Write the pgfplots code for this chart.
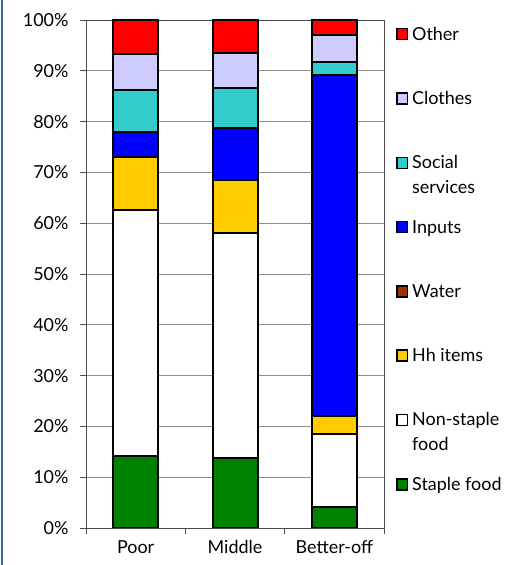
\documentclass[border=0pt]{standalone}
\usepackage{fontspec}
\setmainfont{Lato}
\usepackage{pgfplots}
\pgfplotsset{compat=1.18}
\definecolor{staple}{RGB}{0,128,0}
\definecolor{hhitems}{RGB}{255,204,0}
\definecolor{water}{RGB}{153,51,0}
\definecolor{inputs}{RGB}{0,0,255}
\definecolor{social}{RGB}{51,204,204}
\definecolor{clothes}{RGB}{204,204,255}
\definecolor{other}{RGB}{255,0,0}
\definecolor{framecol}{RGB}{58,104,160}

\begin{document}
\begin{tikzpicture}[font=\fontsize{18}{25}\selectfont]
\useasboundingbox (0,0) rectangle (522bp,565bp);
\draw[framecol, line width=2.5bp] (2bp,0) -- (2bp,565bp);
\begin{axis}[
    at={(86bp,37bp)}, anchor=south west,
    scale only axis, width=298bp, height=508bp,
    ybar stacked, bar width=45bp,
    xmin=-0.5, xmax=2.5, ymin=0, ymax=100,
    xtick={-0.5,0.5,1.5,2.5}, xticklabels={},
    extra x ticks={0,1,2},
    extra x tick labels={Poor,Middle,Better-off},
    extra x tick style={major tick length=0pt,
        xticklabel style={yshift=-9bp}},
    ytick={0,10,...,100},
    yticklabel={\pgfmathprintnumber{\tick}\%},
    yticklabel style={xshift=-8bp},
    /pgf/number format/assume math mode=true,
    tick align=outside, tick pos=left,
    major tick length=6bp,
    tick style={black!70, line width=0.8bp},
    ymajorgrids, grid style={black!45, line width=0.8bp},
    axis line style={black!70, line width=0.8bp},
    every axis plot/.append style={draw=black, line width=2bp},
    every axis plot post/.append style={legend image code/.code={
        \draw[##1, draw=black, line width=1.5bp] (0.5bp,0.5bp) rectangle (11bp,11.5bp);}},
    reverse legend,
    legend style={at={(1,1)}, anchor=north west, xshift=12bp, yshift=-7bp,
        draw=none, fill=none, inner sep=0pt, column sep=4bp, row sep=0pt,
        nodes={inner sep=0pt, text height=13bp, text depth=51.3bp, anchor=base west},
        cells={anchor=base west}},
]
\addplot[fill=staple] coordinates {(0,14.2) (1,13.8) (2,4.1)};
\addlegendentry{Staple food}
\addplot[fill=white] coordinates {(0,48.3) (1,44.2) (2,14.5)};
\addlegendentry{\begin{tabular}[t]{@{}l@{}}Non-staple\\food\end{tabular}}
\addplot[fill=hhitems] coordinates {(0,10.5) (1,10.5) (2,3.4)};
\addlegendentry{Hh items}
\addplot[fill=water] coordinates {(0,0) (1,0) (2,0)};
\addlegendentry{Water}
\addplot[fill=inputs] coordinates {(0,4.9) (1,10.2) (2,67.1)};
\addlegendentry{Inputs}
\addplot[fill=social] coordinates {(0,8.4) (1,7.9) (2,2.7)};
\addlegendentry{\begin{tabular}[t]{@{}l@{}}Social\\services\end{tabular}}
\addplot[fill=clothes] coordinates {(0,7.0) (1,7.0) (2,5.2)};
\addlegendentry{Clothes}
\addplot[fill=other] coordinates {(0,6.7) (1,6.4) (2,3.0)};
\addlegendentry{Other}
\end{axis}
\end{tikzpicture}
\end{document}
